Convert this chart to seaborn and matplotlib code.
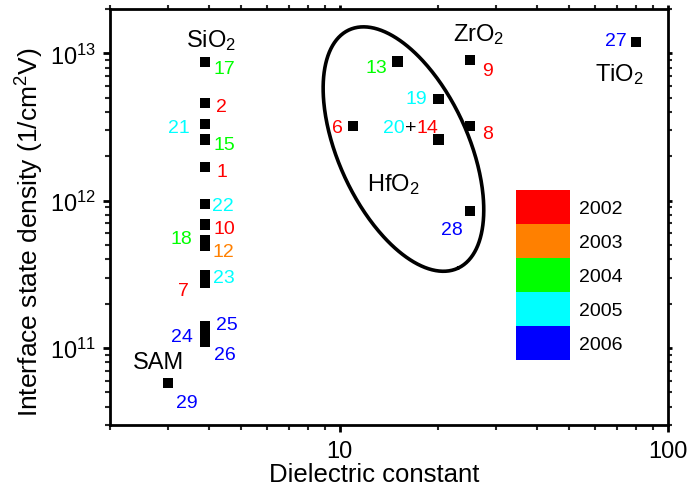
import numpy as np
import pandas as pd
import seaborn as sns
import matplotlib
matplotlib.use("Agg")
import matplotlib.pyplot as plt
from matplotlib.patches import Rectangle
from matplotlib.ticker import LogLocator, LogFormatterSciNotation, NullFormatter

# ---------------- data ----------------
point_ids = ['17', '2', '21', '15', '1', '22', '10', '18', '12', '23', '7',
             '25', '24', '26', '29', '6', '13', '9', '19', '8', '20+14', '28', '27']
dielectric_k = [3.9, 3.9, 3.9, 3.9, 3.9, 3.9, 3.9, 3.9, 3.9, 3.9, 3.9,
                3.9, 3.9, 3.9, 3.0, 11, 15, 25, 20, 25, 20, 25, 80]
dit_values = [8.7e12, 4.6e12, 3.3e12, 2.6e12, 1.7e12, 9.5e11, 6.9e11, 5.4e11, 4.9e11,
              3.1e11, 2.75e11, 1.4e11, 1.24e11, 1.1e11, 5.8e10, 3.2e12, 8.8e12,
              9.0e12, 4.9e12, 3.2e12, 2.6e12, 8.5e11, 1.19e13]
point_years = ['2004', '2002', '2005', '2004', '2002', '2005', '2002', '2004', '2003',
               '2005', '2002', '2006', '2006', '2006', '2006', '2002', '2004', '2002',
               '2005', '2002', 'mixed', '2006', '2006']

years = ['2002', '2003', '2004', '2005', '2006']
year_colors = ['#FF0000', '#FF8000', '#00FF00', '#00FFFF', '#0000FF']
color_of = dict(zip(years, year_colors))

materials = ['SiO$_2$', 'ZrO$_2$', 'TiO$_2$', 'HfO$_2$', 'SAM']

# ---------------- style ----------------
sns.set_theme(style='ticks')
plt.rcParams['font.family'] = ['Liberation Sans', 'DejaVu Sans']
plt.rcParams['mathtext.fontset'] = 'custom'
plt.rcParams['mathtext.rm'] = 'Liberation Sans'
plt.rcParams['mathtext.it'] = 'Liberation Sans:italic'
plt.rcParams['mathtext.bf'] = 'Liberation Sans:bold'

fig = plt.figure(figsize=(6.88, 4.89), dpi=100)
ax = fig.add_axes([110 / 688, 63 / 489, 558 / 688, 416 / 489])

df = pd.DataFrame({'k': dielectric_k, 'Dit': dit_values, 'id': point_ids, 'year': point_years})
sns.scatterplot(data=df, x='k', y='Dit', ax=ax, marker='s', s=55, color='black',
                edgecolor='none', legend=False, zorder=5)

ax.set_xscale('log')
ax.set_yscale('log')
ax.set_xlim(2, 100)
ax.set_ylim(3e10, 2e13)

# ---------------- point labels ----------------
label_fs = 14
offsets = {  # (dx, dy) pixels to visual centre of label, ha
    '17': (8, -4, 'left'), '2': (11, -1, 'left'), '21': (-16, -1, 'right'),
    '15': (8, -2, 'left'), '1': (11, -2, 'left'), '22': (7, 1, 'left'),
    '10': (8, -2, 'left'), '18': (-13, 4, 'right'), '12': (7, -3, 'left'),
    '23': (8, 1, 'left'), '7': (-16, -5, 'right'), '25': (11, 4, 'left'),
    '24': (-12, 0, 'right'), '26': (9, -10, 'left'), '29': (8, -17, 'left'),
    '6': (-10, 1, 'right'), '13': (-10, -3, 'right'), '9': (12, -8, 'left'),
    '19': (-11, 3, 'right'), '8': (12, -5, 'left'), '28': (-8, -16, 'right'),
    '27': (-9, 4, 'right'),
}
cap = 7  # half cap-height in pixels (centre -> baseline)
for pid, kx, dy_, yr in zip(point_ids, dielectric_k, dit_values, point_years):
    if pid == '20+14':
        parts = [('20', '#00FFFF', -34, 'right'), ('+', 'black', -28, 'center'),
                 ('14', '#FF0000', -22, 'left')]
        for txt, col, dx, ha in parts:
            ax.annotate(txt, (kx, dy_), xytext=(dx, 15 - cap), textcoords='offset pixels',
                        ha=ha, va='baseline', color=col, fontsize=label_fs, zorder=6)
        continue
    dx, dy, ha = offsets[pid]
    ax.annotate(pid, (kx, dy_), xytext=(dx, dy - cap), textcoords='offset pixels',
                ha=ha, va='baseline', color=color_of[yr], fontsize=label_fs, zorder=6)

# ---------------- material labels ----------------
mat_pos = [(0.136, 0.911), (0.615, 0.925), (0.869, 0.829), (0.4606, 0.565), (0.041, 0.137)]
for name, (fx, fy) in zip(materials, mat_pos):
    ax.text(fx, fy, name, transform=ax.transAxes, ha='left', va='baseline',
            fontsize=17, color='black')

# ---------------- HfO2 ellipse (drawn in log space) ----------------
xdec = 558 / np.log10(100 / 2)
ydec = 416 / np.log10(2e13 / 3e10)
c_k, c_dit = 15.65, 2.24e12
a_px, b_px, theta = 131, 65, np.deg2rad(65.5)
t = np.linspace(0, 2 * np.pi, 400)
dx_px = a_px * np.cos(t) * np.cos(theta) - b_px * np.sin(t) * np.sin(theta)
dy_px = a_px * np.cos(t) * np.sin(theta) + b_px * np.sin(t) * np.cos(theta)
ell_x = 10 ** (np.log10(c_k) + dx_px / xdec)
ell_y = 10 ** (np.log10(c_dit) - dy_px / ydec)
ax.plot(ell_x, ell_y, color='black', lw=2.6, zorder=4)

# ---------------- year colour legend ----------------
box_left = (516 - 110) / 558
box_w = 54 / 558
box_top_px = 191
box_h_px = 34
for i, (yr, col) in enumerate(zip(years, year_colors)):
    top = box_top_px + i * box_h_px
    bottom = top + box_h_px
    yb = (426 - bottom) / 416
    ax.add_patch(Rectangle((box_left, yb), box_w, box_h_px / 416, transform=ax.transAxes,
                           facecolor=col, edgecolor='none', zorder=3))
    ax.text((579 - 110) / 558, (426 - (top + 16 + cap)) / 416, yr, transform=ax.transAxes,
            ha='left', va='baseline', fontsize=14, color='black')

# ---------------- axes styling ----------------
for side in ['left', 'bottom', 'top', 'right']:
    ax.spines[side].set_visible(True)
    ax.spines[side].set_linewidth(2.0)
    ax.spines[side].set_color('black')

ax.xaxis.set_major_locator(LogLocator(base=10, numticks=10))
ax.xaxis.set_minor_locator(LogLocator(base=10, subs=np.arange(2, 10), numticks=10))
ax.xaxis.set_major_formatter(matplotlib.ticker.FuncFormatter(lambda v, p: f'{v:g}'))
ax.xaxis.set_minor_formatter(NullFormatter())
ax.yaxis.set_major_locator(LogLocator(base=10, numticks=10))
ax.yaxis.set_minor_locator(LogLocator(base=10, subs=np.arange(2, 10), numticks=10))
ax.yaxis.set_major_formatter(LogFormatterSciNotation())
ax.yaxis.set_minor_formatter(NullFormatter())

ax.tick_params(axis='both', which='major', direction='out', length=5, width=2,
               labelsize=17, pad=5, colors='black')
ax.tick_params(axis='x', which='major', pad=6)
ax.tick_params(axis='both', which='minor', direction='out', length=3.5, width=1.5)
ax.tick_params(axis='both', which='both', top=True, right=True)
for tk in ax.xaxis.get_major_ticks() + ax.xaxis.get_minor_ticks():
    tk.tick2line.set_markersize(3)
for tk in ax.yaxis.get_major_ticks() + ax.yaxis.get_minor_ticks():
    tk.tick2line.set_markersize(3)
ax.tick_params(which='both', labeltop=False, labelright=False)

ax.set_xlabel('Dielectric constant', fontsize=18.5, color='black')
ax.set_ylabel('Interface state density (1/cm$^2$V)', fontsize=19, color='black')
ax.xaxis.set_label_coords(0.474, -0.089)
ax.yaxis.set_label_coords(-0.115, 0.466)

fig.savefig('out.png', dpi=100)
